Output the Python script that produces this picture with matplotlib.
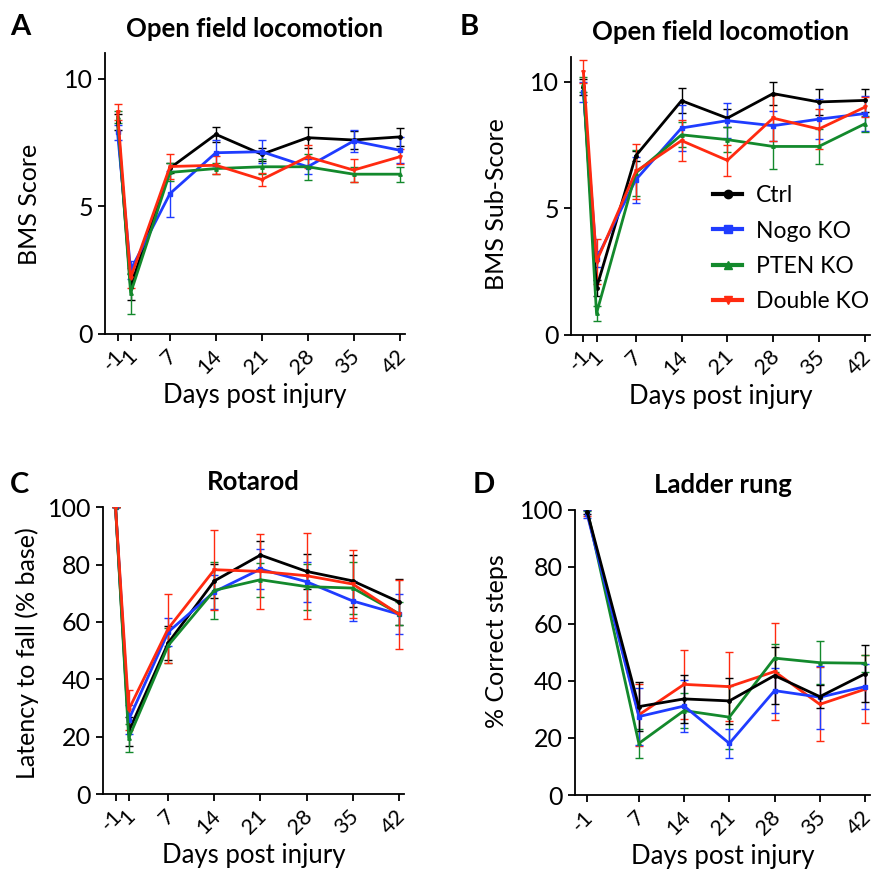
import matplotlib
matplotlib.use("Agg")
import matplotlib.pyplot as plt
import matplotlib.transforms as mtransforms
from matplotlib.lines import Line2D

plt.rcParams['font.family'] = ['Lato', 'DejaVu Sans']

days = [-1, 1, 7, 14, 21, 28, 35, 42]
days_d = [-1, 7, 14, 21, 28, 35, 42]
groups = ["Ctrl", "Nogo KO", "PTEN KO", "Double KO"]
colors = ["#000000", "#1f3cff", "#13892c", "#ff2a10"]
markers = ["o", "s", "^", "v"]

# A: BMS score
bms = {
    "Ctrl":      [8.3, 1.85, 6.5, 7.82, 7.04, 7.69, 7.6, 7.72],
    "Nogo KO":   [7.9, 2.5, 5.5, 7.1, 7.14, 6.55, 7.56, 7.2],
    "PTEN KO":   [8.5, 1.6, 6.33, 6.48, 6.55, 6.55, 6.26, 6.26],
    "Double KO": [8.7, 2.2, 6.56, 6.61, 6.05, 6.94, 6.42, 6.94],
}
bms_err = {
    "Ctrl":      [0.3, 0.5, 0.2, 0.3, 0.25, 0.4, 0.35, 0.35],
    "Nogo KO":   [0.3, 0.35, 0.9, 0.5, 0.45, 0.3, 0.45, 0.5],
    "PTEN KO":   [0.25, 0.8, 0.35, 0.2, 0.3, 0.5, 0.3, 0.3],
    "Double KO": [0.3, 0.4, 0.5, 0.35, 0.25, 0.45, 0.45, 0.3],
}

# B: BMS sub-score
sub = {
    "Ctrl":      [9.8, 1.85, 7.08, 9.26, 8.57, 9.54, 9.21, 9.27],
    "Nogo KO":   [9.6, 3.0, 6.13, 8.18, 8.47, 8.27, 8.53, 8.75],
    "PTEN KO":   [9.9, 0.85, 6.4, 7.91, 7.72, 7.45, 7.45, 8.34],
    "Double KO": [10.4, 2.9, 6.46, 7.68, 6.9, 8.57, 8.14, 9.0],
}
sub_err = {
    "Ctrl":      [0.3, 0.3, 0.2, 0.5, 0.35, 0.45, 0.5, 0.45],
    "Nogo KO":   [0.4, 0.3, 0.9, 0.9, 0.7, 0.6, 0.8, 0.7],
    "PTEN KO":   [0.3, 0.3, 0.9, 0.5, 0.5, 0.9, 0.7, 0.3],
    "Double KO": [0.45, 0.9, 1.1, 0.8, 0.6, 0.9, 0.8, 0.4],
}

# C: rotarod
rota = {
    "Ctrl":      [100, 21.8, 52.7, 74.3, 83.3, 77.6, 74.3, 67.0],
    "Nogo KO":   [100, 25.9, 56.5, 70.5, 78.4, 74.0, 67.3, 62.7],
    "PTEN KO":   [100, 19.5, 51.8, 71.0, 74.7, 72.3, 71.8, 62.9],
    "Double KO": [100, 29.4, 57.7, 78.2, 77.6, 76.1, 73.2, 62.7],
}
rota_err = {
    "Ctrl":      [0, 5, 6, 6, 5, 6, 9, 8],
    "Nogo KO":   [0, 5, 5, 6, 7, 7, 7, 7],
    "PTEN KO":   [0, 5, 6, 10, 6, 8, 9, 4],
    "Double KO": [0, 7, 12, 14, 13, 15, 12, 12],
}

# D: ladder rung
ladder = {
    "Ctrl":      [99.4, 31.0, 33.7, 33.0, 41.9, 34.5, 42.5],
    "Nogo KO":   [98.5, 27.5, 31.2, 18.1, 36.6, 34.3, 38.0],
    "PTEN KO":   [100, 18.1, 29.6, 27.3, 48.0, 46.4, 46.2],
    "Double KO": [99.0, 28.1, 38.8, 38.0, 43.3, 31.8, 37.1],
}
ladder_err = {
    "Ctrl":      [1, 8.5, 8.5, 8, 10, 4, 10],
    "Nogo KO":   [1.5, 10, 9, 5, 8, 11, 8],
    "PTEN KO":   [0.5, 5, 6, 11, 5, 7.5, 3],
    "Double KO": [1, 11, 12, 12, 17, 13, 12],
}

fig = plt.figure(figsize=(8.79, 8.72), dpi=100)
axA = fig.add_axes([0.1195, 0.617, 0.341, 0.322])
axB = fig.add_axes([0.6496, 0.616, 0.3400, 0.319])
axC = fig.add_axes([0.1172, 0.0894, 0.3425, 0.329])
axD = fig.add_axes([0.654, 0.0883, 0.336, 0.327])


def draw(ax, x, vals, errs, order):
    for i in order:
        g = groups[i]
        ax.errorbar(x, vals[g], yerr=errs[g], color=colors[i], marker=markers[i],
                    markersize=2.5, lw=2, elinewidth=1, capsize=3, capthick=1)


def style(ax, title, ylabel, ylim, yticks, xt, lx, ly):
    ax.spines['top'].set_visible(False)
    ax.spines['right'].set_visible(False)
    ax.spines['left'].set_linewidth(1.3)
    ax.spines['bottom'].set_linewidth(1.3)
    ax.set_xlim(-2.9, 42.8)
    ax.set_ylim(*ylim)
    ax.set_yticks(yticks)
    ax.set_xticks(xt)
    ax.set_xticklabels([str(d) for d in xt], rotation=45, ha='right', va='top',
                       rotation_mode='anchor')
    ax.tick_params(labelsize=18, width=1.3, length=5)
    ax.tick_params(axis='x', labelsize=15.5)
    shift = mtransforms.ScaledTranslation(-4 / 100, 0, fig.dpi_scale_trans)
    for lab in ax.get_xticklabels():
        lab.set_transform(lab.get_transform() + shift)
    ax.set_ylabel(ylabel, fontsize=18)
    ax.yaxis.set_label_coords(lx, ly)
    ax.set_xlabel("Days post injury", fontsize=18.5, labelpad=4)
    ax.set_title(title, fontsize=18.5, fontweight='bold', pad=12)


draw(axA, days, bms, bms_err, [0, 1, 2, 3])
style(axA, "Open field locomotion", "BMS Score", (0, 11), [0, 5, 10], days,
      -0.215, 0.46)

draw(axB, days, sub, sub_err, [0, 1, 2, 3])
style(axB, "Open field locomotion", "BMS Sub-Score", (0, 11), [0, 5, 10], days,
      -0.212, 0.47)
handles = [Line2D([], [], color=colors[i], marker=markers[i], markersize=6, lw=3)
           for i in range(4)]
axB.legend(handles, groups, loc='center left', bbox_to_anchor=(0.405, 0.31),
           frameon=False, fontsize=16.5, handlelength=1.3, labelspacing=0.62,
           handletextpad=0.6)

draw(axC, days, rota, rota_err, [0, 1, 2, 3])
style(axC, "Rotarod", "Latency to fall (% base)", (0, 100),
      [0, 20, 40, 60, 80, 100], days, -0.212, 0.49)

draw(axD, days_d, ladder, ladder_err, [3, 2, 1, 0])
style(axD, "Ladder rung", "% Correct steps", (0, 100),
      [0, 20, 40, 60, 80, 100], days_d, -0.228, 0.54)

for letter, x, y in [("A", 10, 27), ("B", 460, 27), ("C", 10, 485), ("D", 473, 485)]:
    fig.text(x / 879, 1 - y / 872, letter, fontsize=21, fontweight='bold',
             ha='left', va='center')

fig.savefig("out.png", dpi=100)
